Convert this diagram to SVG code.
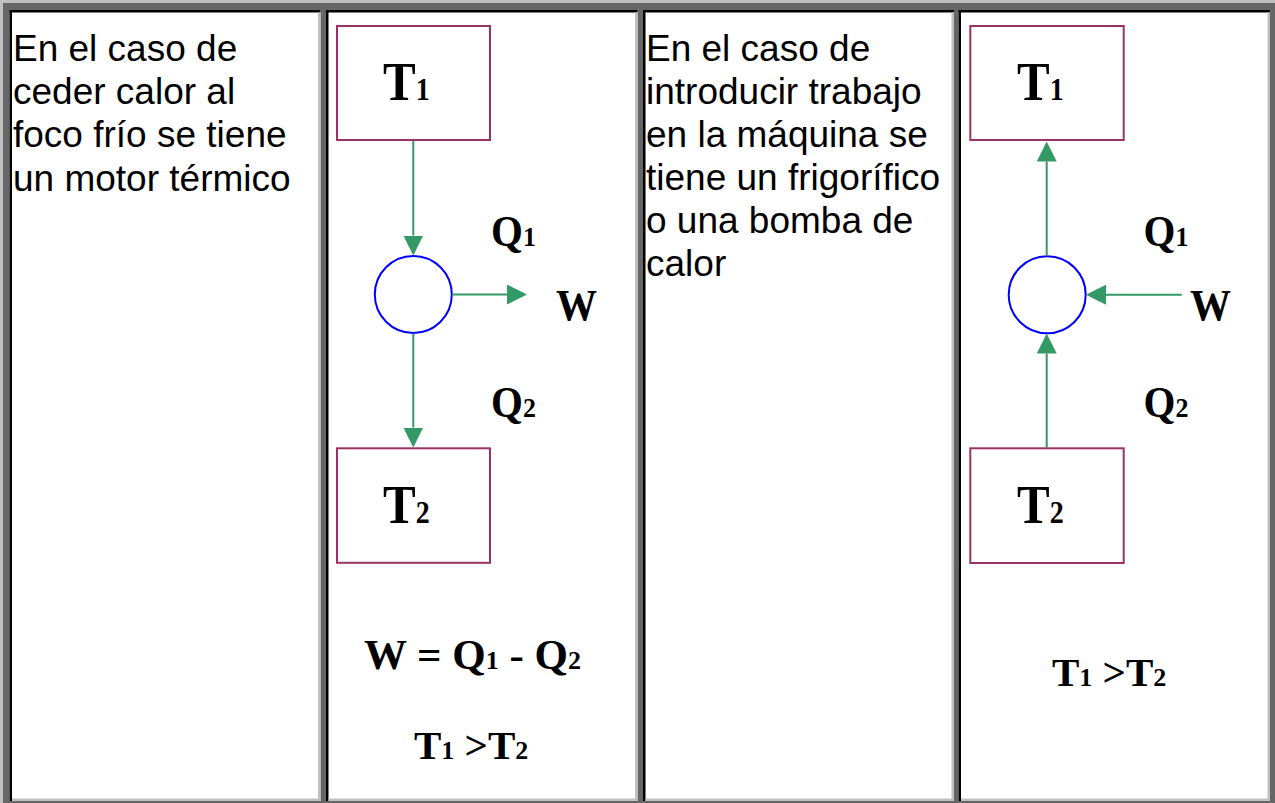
<svg xmlns="http://www.w3.org/2000/svg" width="1275" height="803" viewBox="0 0 1275 803">
<style>
.bg{fill:#666666}
.hl{fill:#c0c0c0}
.cell{fill:#ffffff}
.dk{fill:#000000}
.lt{fill:#c0c0c0}
.para{font-family:"Liberation Sans",Arial,sans-serif;font-size:37px;fill:#000}
.box{fill:none;stroke:#993366;stroke-width:2}
.eng{fill:none;stroke:#0000ff;stroke-width:2}
.big{font-family:"Liberation Serif","Times New Roman",serif;font-weight:bold;font-size:49px;fill:#000}
.lab{font-family:"Liberation Serif","Times New Roman",serif;font-weight:bold;font-size:41px;fill:#000}
.frm{font-family:"Liberation Serif","Times New Roman",serif;font-weight:bold;font-size:43px;fill:#000}
.sub{font-size:28px}
.ssub{font-size:26px}
.flow{stroke:#339966;stroke-width:2;fill:none}
</style>
<defs>
<marker id="arr" viewBox="0 0 20 20" refX="0" refY="10" markerWidth="20" markerHeight="20" markerUnits="userSpaceOnUse" orient="auto">
<path d="M0,0 L20,10 L0,20 Z" fill="#339966"/>
</marker>
</defs>
<g id="table">
<rect class="bg" x="0" y="0" width="1275" height="803"/>
<rect class="hl" x="0" y="0" width="1275" height="3"/>
<rect class="hl" x="0" y="0" width="3" height="803"/>
</g>
<g id="cell1">
<rect class="cell" x="9.5" y="10" width="311" height="791"/>
<rect class="dk" x="9.5" y="10" width="311" height="2.5"/>
<rect class="dk" x="9.5" y="10" width="2.5" height="791"/>
<rect class="lt" x="12" y="798.5" width="308.5" height="2.5"/>
<rect class="lt" x="318" y="12.5" width="2.5" height="788.5"/>
<text class="para" x="13" y="61">En el caso de</text>
<text class="para" x="13" y="104.2">ceder calor al</text>
<text class="para" x="13" y="147.4">foco frío se tiene</text>
<text class="para" x="13" y="190.6">un motor térmico</text>
</g>
<g id="cell2">
<rect class="cell" x="326" y="10" width="311.5" height="791"/>
<rect class="dk" x="326" y="10" width="311.5" height="2.5"/>
<rect class="dk" x="326" y="10" width="2.5" height="791"/>
<rect class="lt" x="328.5" y="798.5" width="309" height="2.5"/>
<rect class="lt" x="635" y="12.5" width="2.5" height="788.5"/>
</g>
<g id="cell3">
<rect class="cell" x="643" y="10" width="311" height="791"/>
<rect class="dk" x="643" y="10" width="311" height="2.5"/>
<rect class="dk" x="643" y="10" width="2.5" height="791"/>
<rect class="lt" x="645.5" y="798.5" width="308.5" height="2.5"/>
<rect class="lt" x="951.5" y="12.5" width="2.5" height="788.5"/>
<text class="para" x="646" y="61">En el caso de</text>
<text class="para" x="646" y="104">introducir trabajo</text>
<text class="para" x="646" y="147">en la máquina se</text>
<text class="para" x="646" y="190">tiene un frigorífico</text>
<text class="para" x="646" y="233">o una bomba de</text>
<text class="para" x="646" y="276">calor</text>
</g>
<g id="cell4">
<rect class="cell" x="958.5" y="10" width="311.5" height="791"/>
<rect class="dk" x="958.5" y="10" width="311.5" height="2.5"/>
<rect class="dk" x="958.5" y="10" width="2.5" height="791"/>
<rect class="lt" x="961" y="798.5" width="309" height="2.5"/>
<rect class="lt" x="1267.5" y="12.5" width="2.5" height="788.5"/>
</g>
<g id="motor-T1">
<rect class="box" x="337" y="26" width="153" height="114"/>
<text class="big" transform="translate(383,100) scale(1,1.12)">T<tspan class="sub">1</tspan></text>
</g>
<g id="motor-engine">
<circle class="eng" cx="413.3" cy="294.5" r="38.5"/>
</g>
<g id="motor-T2">
<rect class="box" x="337" y="448.3" width="153" height="114.5"/>
<text class="big" transform="translate(383,522.7) scale(1,1.12)">T<tspan class="sub">2</tspan></text>
</g>
<g id="motor-labels">
<text class="lab" transform="translate(491,246) scale(1,1.08)">Q<tspan class="ssub">1</tspan></text>
<text class="lab" transform="translate(556,320) scale(1,1.08)">W</text>
<text class="lab" transform="translate(491,417) scale(1,1.08)">Q<tspan class="ssub">2</tspan></text>
<text class="frm" x="364" y="669">W = Q<tspan class="ssub">1</tspan> - Q<tspan class="ssub">2</tspan></text>
<text class="lab" x="414" y="759">T<tspan class="ssub">1</tspan> &gt;T<tspan class="ssub">2</tspan></text>
</g>
<g id="fridge-T1">
<rect class="box" x="970.3" y="26" width="153.4" height="114"/>
<text class="big" transform="translate(1017,100) scale(1,1.12)">T<tspan class="sub">1</tspan></text>
</g>
<g id="fridge-engine">
<circle class="eng" cx="1047.2" cy="294.7" r="38.5"/>
</g>
<g id="fridge-T2">
<rect class="box" x="970.3" y="448.3" width="153.4" height="114.7"/>
<text class="big" transform="translate(1017,522.7) scale(1,1.12)">T<tspan class="sub">2</tspan></text>
</g>
<g id="fridge-labels">
<text class="lab" transform="translate(1143.6,246) scale(1,1.08)">Q<tspan class="ssub">1</tspan></text>
<text class="lab" transform="translate(1190,320) scale(1,1.08)">W</text>
<text class="lab" transform="translate(1143.6,417) scale(1,1.08)">Q<tspan class="ssub">2</tspan></text>
<text class="lab" x="1052" y="686">T<tspan class="ssub">1</tspan> &gt;T<tspan class="ssub">2</tspan></text>
</g>
<g id="connectors">
<line class="flow" x1="413.3" y1="141" x2="413.3" y2="235.5" marker-end="url(#arr)"/>
<line class="flow" x1="452" y1="294.5" x2="507" y2="294.5" marker-end="url(#arr)"/>
<line class="flow" x1="413.3" y1="333.5" x2="413.3" y2="427.5" marker-end="url(#arr)"/>
<line class="flow" x1="1046.7" y1="256" x2="1046.7" y2="161.5" marker-end="url(#arr)"/>
<line class="flow" x1="1181.7" y1="294.7" x2="1106" y2="294.7" marker-end="url(#arr)"/>
<line class="flow" x1="1046.7" y1="448" x2="1046.7" y2="353.5" marker-end="url(#arr)"/>
</g>
</svg>
